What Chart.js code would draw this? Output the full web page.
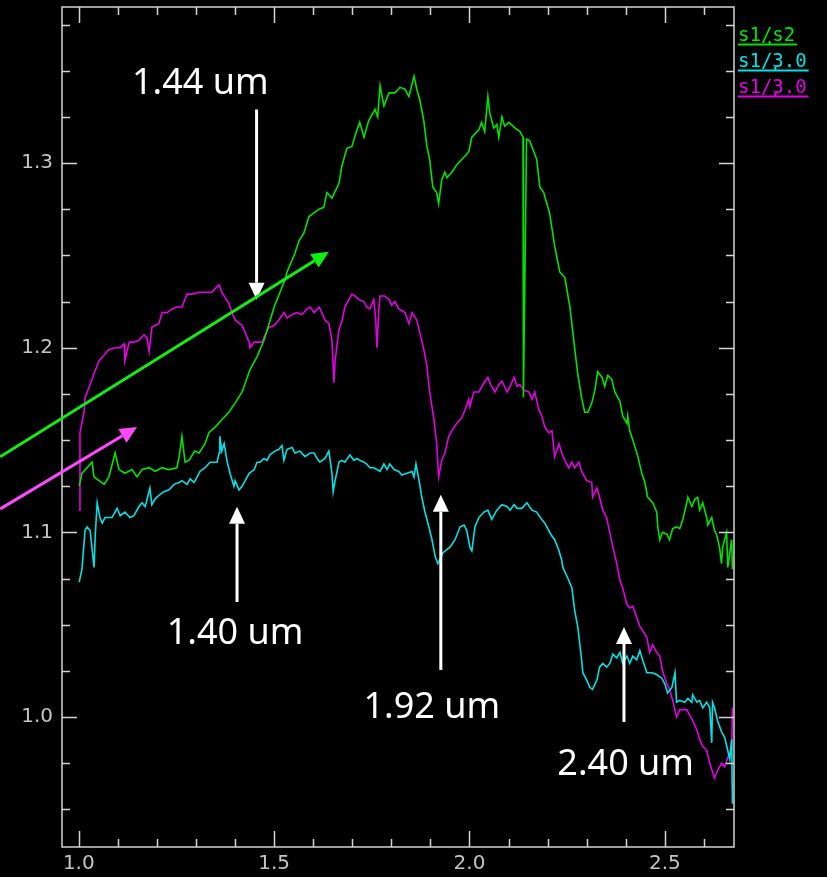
<!DOCTYPE html>
<html>
<head>
<meta charset="utf-8">
<script src="https://cdn.jsdelivr.net/npm/chart.js@4.4.1/dist/chart.umd.min.js"></script>
<style>
  html, body { margin: 0; padding: 0; background: #000; }
  #wrap { width: 827px; height: 877px; position: relative; }
</style>
</head>
<body>
<div id="wrap"><canvas id="chart"></canvas></div>
<script>
/* Readings: [wavelength (um), ratio] */
const s1s2 = [
  [1.001,1.125],[1.008,1.132],[1.034,1.138],[1.039,1.130],[1.052,1.128],[1.065,1.126],[1.077,1.130],[1.093,1.143],[1.103,1.134],[1.118,1.132],
  [1.136,1.134],[1.149,1.130],[1.162,1.134],[1.180,1.135],[1.195,1.133],[1.213,1.135],[1.231,1.134],[1.251,1.135],[1.257,1.141],[1.264,1.152],
  [1.272,1.138],[1.282,1.139],[1.297,1.144],[1.308,1.143],[1.323,1.148],[1.333,1.154],[1.349,1.157],[1.366,1.161],[1.384,1.165],[1.400,1.170],
  [1.418,1.176],[1.438,1.188],[1.456,1.195],[1.474,1.204],[1.487,1.213],[1.500,1.222],[1.515,1.230],[1.528,1.237],[1.533,1.241],[1.553,1.251],
  [1.564,1.258],[1.576,1.262],[1.589,1.271],[1.615,1.275],[1.627,1.276],[1.635,1.284],[1.648,1.281],[1.666,1.289],[1.673,1.298],[1.686,1.308],
  [1.699,1.309],[1.712,1.318],[1.719,1.322],[1.730,1.314],[1.742,1.323],[1.758,1.329],[1.765,1.325],[1.771,1.342],[1.781,1.331],[1.794,1.338],
  [1.809,1.338],[1.822,1.341],[1.835,1.340],[1.845,1.336],[1.858,1.347],[1.865,1.340],[1.873,1.334],[1.883,1.323],[1.891,1.309],[1.898,1.302],
  [1.906,1.287],[1.916,1.284],[1.921,1.278],[1.929,1.291],[1.937,1.295],[1.942,1.292],[1.955,1.295],[1.967,1.299],[1.985,1.303],[1.998,1.306],
  [2.006,1.314],[2.024,1.318],[2.031,1.322],[2.039,1.317],[2.047,1.336],[2.052,1.327],[2.062,1.319],[2.070,1.321],[2.075,1.314],[2.083,1.325],
  [2.090,1.320],[2.101,1.322],[2.116,1.319],[2.129,1.317],[2.137,1.314],[2.138,1.173],[2.144,1.278],[2.146,1.313],[2.154,1.312],[2.165,1.306],
  [2.172,1.302],[2.180,1.287],[2.190,1.284],[2.198,1.278],[2.205,1.273],[2.218,1.255],[2.231,1.241],[2.244,1.238],[2.257,1.222],[2.269,1.200],
  [2.277,1.186],[2.287,1.173],[2.295,1.165],[2.303,1.165],[2.313,1.170],[2.321,1.177],[2.328,1.187],[2.339,1.184],[2.346,1.179],[2.354,1.185],
  [2.364,1.183],[2.372,1.176],[2.385,1.171],[2.392,1.163],[2.403,1.159],[2.405,1.163],[2.410,1.155],[2.418,1.150],[2.431,1.141],[2.441,1.132],
  [2.449,1.127],[2.456,1.119],[2.469,1.116],[2.479,1.111],[2.482,1.103],[2.487,1.096],[2.494,1.100],[2.505,1.099],[2.512,1.096],[2.520,1.102],
  [2.530,1.103],[2.538,1.102],[2.546,1.107],[2.556,1.116],[2.559,1.119],[2.569,1.114],[2.577,1.118],[2.584,1.119],[2.589,1.112],[2.597,1.116],
  [2.607,1.108],[2.610,1.104],[2.620,1.108],[2.627,1.101],[2.632,1.099],[2.640,1.092],[2.645,1.083],[2.648,1.092],[2.658,1.100],[2.661,1.081],
  [2.671,1.096],[2.673,1.080]
];

const s1cyan = [
  [1.001,1.073],[1.008,1.080],[1.016,1.101],[1.021,1.103],[1.029,1.101],[1.039,1.081],[1.042,1.098],[1.047,1.116],[1.054,1.108],[1.060,1.105],
  [1.067,1.108],[1.085,1.108],[1.098,1.113],[1.106,1.109],[1.118,1.111],[1.131,1.108],[1.141,1.109],[1.154,1.114],[1.162,1.116],[1.170,1.114],
  [1.182,1.124],[1.187,1.115],[1.195,1.118],[1.205,1.120],[1.218,1.122],[1.231,1.123],[1.244,1.126],[1.257,1.127],[1.264,1.128],[1.277,1.126],
  [1.285,1.129],[1.295,1.127],[1.303,1.130],[1.310,1.133],[1.323,1.135],[1.336,1.138],[1.346,1.138],[1.354,1.138],[1.359,1.143],[1.361,1.152],
  [1.366,1.144],[1.372,1.148],[1.379,1.139],[1.387,1.132],[1.397,1.125],[1.400,1.128],[1.410,1.123],[1.418,1.125],[1.426,1.128],[1.436,1.132],
  [1.449,1.134],[1.456,1.138],[1.464,1.138],[1.474,1.140],[1.482,1.139],[1.489,1.142],[1.502,1.144],[1.512,1.145],[1.520,1.147],[1.525,1.139],
  [1.533,1.145],[1.546,1.146],[1.553,1.143],[1.566,1.144],[1.579,1.141],[1.592,1.143],[1.602,1.143],[1.610,1.140],[1.617,1.138],[1.630,1.140],
  [1.640,1.144],[1.648,1.132],[1.651,1.122],[1.656,1.128],[1.666,1.138],[1.673,1.139],[1.681,1.138],[1.694,1.142],[1.704,1.139],[1.712,1.140],
  [1.719,1.139],[1.730,1.138],[1.737,1.137],[1.745,1.135],[1.755,1.135],[1.763,1.134],[1.771,1.133],[1.781,1.137],[1.789,1.134],[1.796,1.137],
  [1.807,1.134],[1.819,1.133],[1.827,1.131],[1.840,1.132],[1.853,1.133],[1.858,1.130],[1.863,1.137],[1.871,1.128],[1.878,1.119],[1.886,1.111],
  [1.896,1.103],[1.904,1.096],[1.912,1.087],[1.919,1.083],[1.932,1.089],[1.950,1.092],[1.963,1.096],[1.976,1.103],[1.986,1.104],[1.993,1.101],
  [2.001,1.092],[2.006,1.090],[2.014,1.103],[2.024,1.108],[2.037,1.111],[2.047,1.112],[2.057,1.107],[2.070,1.112],[2.083,1.115],[2.096,1.114],
  [2.104,1.112],[2.114,1.115],[2.122,1.113],[2.134,1.113],[2.147,1.116],[2.160,1.112],[2.172,1.111],[2.185,1.107],[2.193,1.105],[2.203,1.101],
  [2.211,1.098],[2.218,1.096],[2.229,1.090],[2.236,1.085],[2.239,1.081],[2.252,1.075],[2.262,1.070],[2.269,1.058],[2.277,1.049],[2.287,1.031],
  [2.290,1.024],[2.300,1.020],[2.308,1.016],[2.315,1.015],[2.326,1.020],[2.333,1.027],[2.341,1.029],[2.351,1.027],[2.359,1.029],[2.367,1.034],
  [2.377,1.032],[2.385,1.035],[2.392,1.029],[2.403,1.033],[2.410,1.029],[2.418,1.033],[2.428,1.031],[2.436,1.036],[2.443,1.031],[2.454,1.024],
  [2.467,1.024],[2.479,1.023],[2.492,1.021],[2.500,1.018],[2.507,1.013],[2.518,1.016],[2.526,1.024],[2.530,1.008],[2.538,1.009],[2.551,1.008],
  [2.559,1.010],[2.569,1.008],[2.571,1.012],[2.582,1.008],[2.589,1.009],[2.597,1.005],[2.607,1.008],[2.615,1.005],[2.620,0.986],[2.622,1.008],
  [2.627,1.005],[2.635,0.998],[2.645,0.992],[2.653,0.989],[2.661,0.982],[2.666,0.977],[2.671,0.988],[2.673,0.953]
];

const s1magenta = [
  [1.001,1.112],[1.003,1.154],[1.014,1.166],[1.016,1.173],[1.027,1.179],[1.039,1.186],[1.052,1.193],[1.065,1.196],[1.077,1.199],[1.093,1.200],
  [1.106,1.200],[1.116,1.202],[1.118,1.193],[1.129,1.203],[1.141,1.203],[1.154,1.204],[1.167,1.207],[1.175,1.205],[1.180,1.198],[1.187,1.211],
  [1.205,1.213],[1.213,1.219],[1.226,1.219],[1.239,1.221],[1.251,1.222],[1.264,1.222],[1.277,1.229],[1.290,1.229],[1.308,1.230],[1.323,1.230],
  [1.341,1.230],[1.349,1.232],[1.359,1.234],[1.366,1.230],[1.384,1.224],[1.392,1.219],[1.400,1.215],[1.418,1.212],[1.426,1.208],[1.436,1.203],
  [1.438,1.200],[1.449,1.203],[1.461,1.203],[1.469,1.203],[1.477,1.207],[1.487,1.211],[1.500,1.212],[1.512,1.215],[1.525,1.219],[1.533,1.216],
  [1.546,1.218],[1.558,1.219],[1.571,1.218],[1.584,1.221],[1.592,1.222],[1.602,1.219],[1.615,1.222],[1.622,1.219],[1.630,1.215],[1.640,1.213],
  [1.648,1.204],[1.653,1.181],[1.656,1.193],[1.666,1.210],[1.673,1.214],[1.681,1.222],[1.691,1.226],[1.699,1.229],[1.707,1.228],[1.717,1.226],
  [1.730,1.225],[1.737,1.222],[1.745,1.221],[1.755,1.226],[1.760,1.215],[1.763,1.200],[1.768,1.221],[1.771,1.228],[1.783,1.228],[1.794,1.226],
  [1.801,1.223],[1.809,1.225],[1.819,1.221],[1.827,1.220],[1.835,1.219],[1.845,1.213],[1.853,1.219],[1.865,1.215],[1.873,1.208],[1.883,1.199],
  [1.891,1.190],[1.898,1.176],[1.909,1.161],[1.916,1.148],[1.921,1.130],[1.929,1.139],[1.937,1.143],[1.947,1.152],[1.955,1.155],[1.967,1.159],
  [1.980,1.162],[1.988,1.166],[1.998,1.172],[2.001,1.168],[2.011,1.176],[2.024,1.176],[2.037,1.181],[2.047,1.184],[2.054,1.180],[2.065,1.176],
  [2.075,1.180],[2.083,1.182],[2.096,1.176],[2.104,1.179],[2.114,1.184],[2.122,1.179],[2.129,1.180],[2.139,1.177],[2.152,1.176],[2.160,1.172],
  [2.167,1.176],[2.178,1.166],[2.185,1.163],[2.193,1.157],[2.203,1.154],[2.211,1.155],[2.218,1.141],[2.229,1.148],[2.236,1.143],[2.244,1.139],
  [2.254,1.135],[2.262,1.138],[2.269,1.135],[2.280,1.138],[2.287,1.133],[2.300,1.128],[2.313,1.127],[2.315,1.119],[2.326,1.124],[2.333,1.119],
  [2.341,1.112],[2.351,1.108],[2.359,1.100],[2.367,1.092],[2.377,1.083],[2.385,1.074],[2.392,1.070],[2.403,1.061],[2.410,1.059],[2.418,1.060],
  [2.428,1.054],[2.436,1.049],[2.443,1.047],[2.454,1.043],[2.461,1.035],[2.469,1.039],[2.479,1.035],[2.487,1.033],[2.494,1.025],[2.505,1.018],
  [2.512,1.015],[2.520,1.009],[2.530,1.000],[2.538,1.004],[2.556,1.004],[2.571,0.998],[2.582,0.993],[2.589,0.988],[2.597,0.984],[2.607,0.982],
  [2.615,0.975],[2.627,0.967],[2.635,0.971],[2.645,0.975],[2.653,0.973],[2.661,0.978],[2.671,0.982],[2.673,1.005]
];

const seriesLabels = ['s1/s2', 's1/3.0', 's1/3.0'];
const seriesColors = ['#00e400', '#00e2e6', '#e400e4'];
const xTicks = [1.0, 1.5, 2.0, 2.5];
const yTicks = [1.0, 1.1, 1.2, 1.3];

/* Annotations in data units */
const labels = [
  { text: '1.44 um', x: 1.311, y: 1.3376 },
  { text: '1.40 um', x: 1.400, y: 1.0396 },
  { text: '1.92 um', x: 1.9036, y: 0.9995 },
  { text: '2.40 um', x: 2.3997, y: 0.9686 }
];
const arrows = [
  { from: [1.455, 1.329], to: [1.455, 1.226], color: '#ffffff' },
  { from: [1.405, 1.0623], to: [1.405, 1.1138], color: '#ffffff' },
  { from: [1.9266, 1.0255], to: [1.9266, 1.1203], color: '#ffffff' },
  { from: [2.3954, 0.9973], to: [2.3954, 1.0488], color: '#ffffff' },
  { from: [0.7987, 1.1409], to: [1.640, 1.252], color: '#10f010' },
  { from: [0.799, 1.1127], to: [1.149, 1.157], color: '#ff48ff' }
];

const AXIS = '#d4d4d4';

const toXY = arr => arr.map(p => ({ x: p[0], y: p[1] }));

const noPad = s => { s.paddingTop = 0; s.paddingBottom = 0; s.paddingLeft = 0; s.paddingRight = 0; };

/* Frame + inward ticks on all four sides */
const framePlugin = {
  id: 'frame',
  afterDraw(chart) {
    const { ctx, chartArea: a, scales: { x, y } } = chart;
    ctx.save();
    ctx.strokeStyle = AXIS;
    ctx.lineWidth = 1.5;
    ctx.strokeRect(a.left, a.top, a.right - a.left, a.bottom - a.top);
    ctx.beginPath();
    for (let k = 10; k <= 26; k++) {
      const px = Math.round(x.getPixelForValue(k / 10)) + 0.5;
      const len = k % 5 === 0 ? 16 : 8;
      ctx.moveTo(px, a.bottom); ctx.lineTo(px, a.bottom - len);
      ctx.moveTo(px, a.top); ctx.lineTo(px, a.top + len);
    }
    for (let k = 38; k <= 55; k++) {
      const py = Math.round(y.getPixelForValue(k * 0.025)) + 0.5;
      const len = k % 4 === 0 ? 15 : 8;
      ctx.moveTo(a.left, py); ctx.lineTo(a.left + len, py);
      ctx.moveTo(a.right, py); ctx.lineTo(a.right - len, py);
    }
    ctx.stroke();
    ctx.restore();
  }
};

/* Arrows and wavelength labels */
const notesPlugin = {
  id: 'notes',
  afterDraw(chart) {
    const { ctx, scales: { x, y } } = chart;
    ctx.save();
    arrows.forEach(ar => {
      const x0 = x.getPixelForValue(ar.from[0]), y0 = y.getPixelForValue(ar.from[1]);
      const x1 = x.getPixelForValue(ar.to[0]), y1 = y.getPixelForValue(ar.to[1]);
      const ang = Math.atan2(y1 - y0, x1 - x0);
      const hl = 17, hw = 8;
      const bx = x1 - hl * Math.cos(ang), by = y1 - hl * Math.sin(ang);
      ctx.strokeStyle = ar.color;
      ctx.fillStyle = ar.color;
      ctx.lineWidth = 3;
      ctx.beginPath();
      ctx.moveTo(x0, y0);
      ctx.lineTo(bx, by);
      ctx.stroke();
      ctx.beginPath();
      ctx.moveTo(x1, y1);
      ctx.lineTo(bx + hw * Math.sin(ang), by - hw * Math.cos(ang));
      ctx.lineTo(bx - hw * Math.sin(ang), by + hw * Math.cos(ang));
      ctx.closePath();
      ctx.fill();
    });
    ctx.fillStyle = '#ffffff';
    ctx.font = '36px "Noto Sans"';
    ctx.textAlign = 'center';
    ctx.textBaseline = 'alphabetic';
    labels.forEach(l => ctx.fillText(l.text, x.getPixelForValue(l.x), y.getPixelForValue(l.y)));

    /* legend, top right outside the frame */
    ctx.font = '19px "DejaVu Sans Mono"';
    ctx.textAlign = 'left';
    chart.data.datasets.forEach((ds, i) => {
      const lx = chart.chartArea.right + 4;
      const base = 41 + i * 26;
      const w = ctx.measureText(ds.label).width;
      ctx.fillStyle = ds.borderColor;
      ctx.fillText(ds.label, lx, base);
      ctx.strokeStyle = ds.borderColor;
      ctx.lineWidth = 2;
      ctx.beginPath();
      ctx.moveTo(lx, base + 3.5);
      ctx.lineTo(lx + w + 2, base + 3.5);
      ctx.moveTo(lx + w / 2 + 3, base + 3.5);
      ctx.lineTo(lx + w / 2 + 3, base);
      ctx.stroke();
    });
    ctx.restore();
  }
};

new Chart(document.getElementById('chart'), {
  type: 'line',
  data: {
    datasets: [s1s2, s1cyan, s1magenta].map((d, i) => ({
      label: seriesLabels[i],
      data: toXY(d),
      borderColor: seriesColors[i],
      borderWidth: 1.6,
      pointRadius: 0,
      tension: 0,
      fill: false
    }))
  },
  options: {
    responsive: true,
    maintainAspectRatio: false,
    animation: false,
    layout: { padding: { top: 7, right: 93, bottom: 0, left: 0 } },
    plugins: { legend: { display: false }, tooltip: { enabled: false } },
    scales: {
      x: {
        type: 'linear',
        min: 0.957,
        max: 2.677,
        grid: { display: false, drawTicks: false },
        border: { display: false },
        afterBuildTicks: s => { s.ticks = xTicks.map(v => ({ value: v })); },
        afterFit: s => { s.height = 30; noPad(s); },
        ticks: {
          color: '#c4c4c4',
          padding: 5,
          maxRotation: 0,
          font: { family: 'DejaVu Sans', size: 20 },
          callback: v => Number(v).toFixed(1)
        }
      },
      y: {
        type: 'linear',
        min: 0.9296,
        max: 1.3845,
        grid: { display: false, drawTicks: false },
        border: { display: false },
        afterBuildTicks: s => { s.ticks = yTicks.map(v => ({ value: v })); },
        afterFit: s => { s.width = 62; noPad(s); },
        ticks: {
          color: '#c4c4c4',
          padding: 9,
          font: { family: 'DejaVu Sans', size: 20 },
          callback: v => Number(v).toFixed(1)
        }
      }
    }
  },
  plugins: [framePlugin, notesPlugin]
});
</script>
</body>
</html>
